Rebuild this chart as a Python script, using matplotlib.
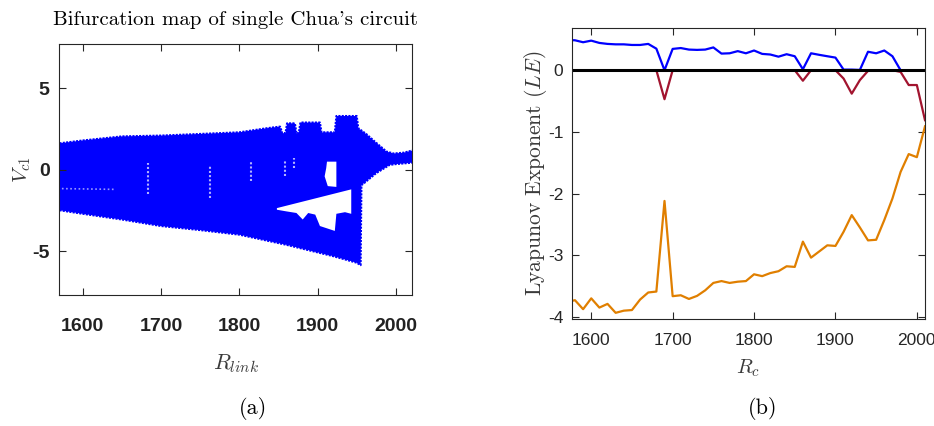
# bifurcation map + lyapunov exponents, two panels side by side
import matplotlib
matplotlib.use('Agg')
import matplotlib.pyplot as plt
from matplotlib import font_manager as fm
import numpy as np

plt.rcParams['mathtext.fontset'] = 'cm'
plt.rcParams['axes.unicode_minus'] = False

# --- panel (a): envelope of the bifurcation cloud ---
env_top_r = [1566, 1600, 1650, 1700, 1750, 1800, 1835, 1852, 1855, 1859, 1861, 1871, 1873, 1876,
             1878, 1903, 1905, 1922, 1924, 1950, 1952, 1962, 1975, 1988, 1997, 2010, 2024]
env_top_v = [1.6, 1.8, 2.05, 2.1, 2.2, 2.3, 2.55, 2.65, 2.25, 2.25, 2.85, 2.85, 2.25, 2.25,
             2.9, 2.9, 2.3, 2.3, 3.3, 3.3, 2.55, 2.2, 1.65, 1.12, 1.0, 1.05, 1.22]
env_bot_r = [1566, 1600, 1650, 1700, 1750, 1800, 1860, 1920, 1950, 1955, 1956, 1975, 1992, 2000, 2024]
env_bot_v = [-2.45, -2.7, -3.05, -3.45, -3.7, -3.98, -4.6, -5.3, -5.7, -5.85, -0.95, -0.2, 0.3, 0.35, 0.45]

# white triangle-ish hole between the two branches
hole1_r = [1848, 1943, 1943, 1935, 1924, 1922, 1903, 1897, 1888, 1881, 1873, 1860, 1848]
hole1_v = [-2.35, -1.2, -2.7, -2.6, -2.7, -3.75, -3.45, -2.75, -2.65, -3.05, -2.65, -2.55, -2.45]
# small window near R=1915
hole2_r = [1912, 1924, 1924, 1913, 1909, 1911, 1912]
hole2_v = [0.5, 0.5, -1.05, -1.0, -0.4, 0.1, 0.5]
# sparse white stripes inside the cloud
stripe_r = [1683, 1763, 1815, 1858, 1870]
stripe_top = [0.4, 0.3, 0.5, 0.6, 0.7]
stripe_bot = [-1.5, -1.7, -0.7, -0.4, 0.1]

# --- panel (b): lyapunov exponents vs R_c ---
r_c = [1570, 1580, 1590, 1600, 1610, 1620, 1630, 1640, 1650, 1660, 1670, 1680, 1690, 1700, 1710,
       1720, 1730, 1740, 1750, 1760, 1770, 1780, 1790, 1800, 1810, 1820, 1830, 1840, 1850, 1860,
       1870, 1880, 1890, 1900, 1910, 1920, 1930, 1940, 1950, 1960, 1970, 1980, 1990, 2000, 2010]
le1 = [0.49, 0.486, 0.454, 0.48, 0.443, 0.427, 0.42, 0.42, 0.41, 0.41, 0.427, 0.35, 0.0, 0.346, 0.36,
       0.335, 0.33, 0.335, 0.37, 0.27, 0.275, 0.31, 0.275, 0.32, 0.265, 0.255, 0.22, 0.26, 0.227, 0.016,
       0.275, 0.25, 0.227, 0.205, 0.01, 0.01, 0.005, 0.30, 0.275, 0.32, 0.227, 0.0, 0.0, 0.0, 0.0]
le2 = [0, 0, 0, 0, 0, 0, 0, 0, 0, 0, 0, 0, -0.47, 0, 0,
       0, 0, 0, 0, 0, 0, 0, 0, 0, 0, 0, 0, 0, 0, -0.17,
       0, 0, 0, 0, -0.135, -0.38, -0.16, -0.01, 0, 0, 0, -0.027, -0.24, -0.24, -0.81]
le3 = [-3.76, -3.73, -3.876, -3.70, -3.85, -3.79, -3.935, -3.90, -3.89, -3.72, -3.605, -3.59, -2.12, -3.665, -3.65,
       -3.71, -3.66, -3.57, -3.45, -3.42, -3.45, -3.43, -3.42, -3.31, -3.34, -3.29, -3.26, -3.18, -3.19, -2.78,
       -3.04, -2.94, -2.84, -2.85, -2.62, -2.35, -2.55, -2.76, -2.75, -2.43, -2.08, -1.65, -1.36, -1.41, -0.91]

W, H = 934, 426
fig = plt.figure(figsize=(W / 100, H / 100), dpi=100)

# narrow bold face for panel (a) ticks if there is one
try:
    fm.findfont(fm.FontProperties(family='Liberation Sans Narrow', weight='bold'), fallback_to_default=False)
    tick_fam, tick_size = ['Liberation Sans Narrow', 'DejaVu Sans'], 17
except ValueError:
    tick_fam, tick_size = ['Liberation Sans', 'DejaVu Sans'], 14

label_col = '#3a3a3a'

# ---------- (a) ----------
ax1 = fig.add_axes([59.3 / W, 1 - 295.3 / H, 353 / W, 251 / H])
blue = '#0000ff'
ax1.fill(env_top_r + env_bot_r[::-1], env_top_v + env_bot_v[::-1], color=blue, lw=0)
ax1.plot(env_top_r, env_top_v, color=blue, lw=1.5, ls=(0, (1, 0.6)))
ax1.plot(env_bot_r, env_bot_v, color=blue, lw=1.5, ls=(0, (1, 0.6)))
ax1.fill(hole1_r, hole1_v, color='white', lw=0)
ax1.fill(hole2_r, hole2_v, color='white', lw=0)
ax1.vlines(stripe_r, stripe_bot, stripe_top, colors='white', lw=1.5, alpha=0.7, linestyles=(0, (1, 1)))
ax1.plot([1568, 1640], [-1.15, -1.2], color='white', lw=1.2, alpha=0.6, ls=(0, (1, 1.5)))

ax1.set_xlim(1570, 2021)
ax1.set_ylim(-7.7, 7.7)
ax1.set_xticks([1600, 1700, 1800, 1900, 2000])
ax1.set_yticks([-5, 0, 5])
ax1.tick_params(axis='x', pad=16)
ax1.tick_params(axis='y', pad=7)
ax1.tick_params(direction='in', top=True, right=True, length=5, width=0.8, color='#262626')
for lab in ax1.get_xticklabels() + ax1.get_yticklabels():
    lab.set_fontfamily(tick_fam)
    lab.set_fontweight('bold')
    lab.set_fontsize(tick_size)
    lab.set_color('#222222')
for s in ax1.spines.values():
    s.set_color('#262626')
    s.set_linewidth(0.8)
ax1.set_title("Bifurcation map of single Chua's circuit", family='cmr10', fontsize=15, pad=14)
ax1.set_xlabel(r'$R_{link}$', fontsize=16, color=label_col)
ax1.xaxis.set_label_coords(0.5, -0.225)
ax1.set_ylabel(r'$V_{c1}$', fontsize=15, color=label_col)
ax1.yaxis.set_label_coords(-0.074, 0.5)

# ---------- (b) ----------
ax2 = fig.add_axes([571.7 / W, 1 - 319.3 / H, 353.3 / W, 291.6 / H])
ax2.plot(r_c, le1, color='#0000ff', lw=1.6)
ax2.plot(r_c, le2, color='#a2142f', lw=1.6)
ax2.plot(r_c, le3, color='#e07f00', lw=1.6)
ax2.axhline(0, color='black', lw=2.2)
ax2.set_xlim(1576, 2010)
ax2.set_ylim(-4.04, 0.69)
ax2.set_xticks([1600, 1700, 1800, 1900, 2000])
ax2.set_yticks([-4, -3, -2, -1, 0])
ax2.tick_params(axis='x', pad=10)
ax2.tick_params(axis='y', pad=6)
ax2.tick_params(direction='in', top=True, right=True, length=5, width=0.8, color='#262626',
                labelsize=12.5, labelcolor='#262626')
for lab in ax2.get_xticklabels() + ax2.get_yticklabels():
    lab.set_fontfamily(['Liberation Sans', 'DejaVu Sans'])
for s in ax2.spines.values():
    s.set_color('#262626')
    s.set_linewidth(0.8)
ax2.set_xlabel(r'$R_c$', fontsize=15, color=label_col)
ax2.xaxis.set_label_coords(0.5, -0.13)
ax2.set_ylabel(r'Lyapunov Exponent $(LE)$', family='cmr10', fontsize=15.5, color=label_col)
ax2.yaxis.set_label_coords(-0.063, 0.5)

fig.text(253 / W, 1 - 409 / H, '(a)', family='cmr10', fontsize=16, ha='center', va='center')
fig.text(763 / W, 1 - 408 / H, '(b)', family='cmr10', fontsize=16, ha='center', va='center')

fig.savefig('out.png', dpi=100)
